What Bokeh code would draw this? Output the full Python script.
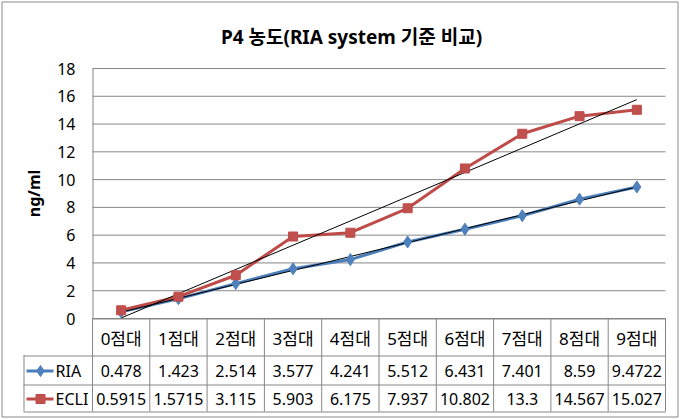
import numpy as np
from bokeh.plotting import figure
from bokeh.models import Range1d
from bokeh.core.properties import value
from bokeh.embed import file_html
from bokeh.resources import INLINE

# ---------------- data ----------------
title_text = "P4 농도(RIA system 기준 비교)"
y_label = "ng/ml"
categories = ["0점대", "1점대", "2점대", "3점대", "4점대", "5점대", "6점대", "7점대", "8점대", "9점대"]
ria = [0.478, 1.423, 2.514, 3.577, 4.241, 5.512, 6.431, 7.401, 8.59, 9.4722]
ecli = [0.5915, 1.5715, 3.115, 5.903, 6.175, 7.937, 10.802, 13.3, 14.567, 15.027]
series_names = ["RIA", "ECLI"]
y_ticks = [0, 2, 4, 6, 8, 10, 12, 14, 16, 18]

# ---------------- layout (pixels) ----------------
W, H = 681, 419
PL, PR, PT, PB = 92, 665, 68, 318          # plot area
Y_MIN, Y_MAX = 0, 18
TABLE_L = 23
ROW_EDGES = [318, 355, 384, 411]           # table row boundaries
n = len(categories)
cw = (PR - PL) / n
x_start = -0.5 - PL / cw
x_end = x_start + W / cw
ppu = (PB - PT) / (Y_MAX - Y_MIN)
y_start = Y_MIN - (H - PB) / ppu
y_end = Y_MAX + PT / ppu

FONT = value("'Noto Sans', 'Noto Sans CJK KR', sans-serif")
GRID = "#878787"
BLUE, BLUE_M = "#4A7EBB", "#4F81BD"
RED, RED_M = "#BE4B48", "#C0504D"

p = figure(width=W, height=H, x_range=Range1d(x_start, x_end), y_range=Range1d(y_start, y_end),
           x_axis_type=None, y_axis_type=None, toolbar_location=None, output_backend="svg",
           min_border=0, outline_line_color=None, background_fill_color="white",
           border_fill_color="white")
p.extra_x_ranges = {"px": Range1d(0, W)}
p.extra_y_ranges = {"px": Range1d(H, 0)}

# outer chart border
p.quad(left=[1.5], right=[677.5], top=[1.5], bottom=[416.5], fill_color=None,
       line_color="#8a8a8a", line_width=1, x_range_name="px", y_range_name="px")

# gridlines and y axis
p.segment(x0=[PL] * len(y_ticks), x1=[PR] * len(y_ticks), y0=y_ticks, y1=y_ticks,
          line_color=GRID, line_width=1, x_range_name="px")
p.segment(x0=[PL + 0.5], x1=[PL + 0.5], y0=[Y_MIN], y1=[Y_MAX], line_color=GRID,
          line_width=1, x_range_name="px")
p.text(x=[75] * len(y_ticks), y=y_ticks, text=[str(t) for t in y_ticks], text_align="right",
       text_baseline="middle", text_font=FONT, text_font_size="16px", text_color="black",
       x_range_name="px")
p.text(x=[33], y=[(PT + PB) / 2], text=[y_label], angle=np.pi / 2, text_align="center",
       text_baseline="middle", text_font=FONT, text_font_size="16px", text_font_style="bold",
       text_color="black", x_range_name="px", y_range_name="px")

# title
p.text(x=[351], y=[36], text=[title_text], text_align="center", text_baseline="middle",
       text_font=FONT, text_font_size="19px", text_font_style="bold", text_color="black",
       x_range_name="px", y_range_name="px")

# series
xs = list(range(n))
p.line(xs, ria, line_color=BLUE, line_width=3)
p.line(xs, ecli, line_color=RED, line_width=3)

# linear trendlines
for vals in (ria, ecli):
    k, b = np.polyfit(xs, vals, 1)
    p.line([xs[0], xs[-1]], [b + k * xs[0], b + k * xs[-1]], line_color="black", line_width=1)

p.scatter(xs, ria, marker="diamond", size=12, fill_color=BLUE_M, line_color=BLUE)
p.scatter(xs, ecli, marker="square", size=9, fill_color=RED_M, line_color=RED)

# ---------------- data table ----------------
col_edges = [PL + i * cw for i in range(n + 1)]
p.segment(x0=col_edges, x1=col_edges, y0=[ROW_EDGES[0]] * len(col_edges),
          y1=[ROW_EDGES[-1]] * len(col_edges), line_color=GRID, line_width=1,
          x_range_name="px", y_range_name="px")
p.segment(x0=[TABLE_L + 0.5], x1=[TABLE_L + 0.5], y0=[ROW_EDGES[1]], y1=[ROW_EDGES[-1]],
          line_color=GRID, line_width=1, x_range_name="px", y_range_name="px")
p.segment(x0=[PL] + [TABLE_L] * 3, x1=[PR] * 4, y0=[e + 0.5 for e in ROW_EDGES],
          y1=[e + 0.5 for e in ROW_EDGES], line_color=GRID, line_width=1,
          x_range_name="px", y_range_name="px")

row_c = [(ROW_EDGES[i] + ROW_EDGES[i + 1]) / 2 + 1 for i in range(3)]
p.text(x=xs, y=[row_c[0]] * n, text=categories, text_align="center", text_baseline="middle",
       text_font=FONT, text_font_size="17px", text_color="black", y_range_name="px")
p.text(x=xs, y=[row_c[1]] * n, text=[str(v) for v in ria], text_align="center",
       text_baseline="middle", text_font=FONT, text_font_size="16px", text_color="black",
       y_range_name="px")
p.text(x=xs, y=[row_c[2]] * n, text=[str(v) for v in ecli], text_align="center",
       text_baseline="middle", text_font=FONT, text_font_size="16px", text_color="black",
       y_range_name="px")

# legend keys inside table
for (name, col, mcol, marker, size), yc in zip(
        [(series_names[0], BLUE, BLUE_M, "diamond", 11), (series_names[1], RED, RED_M, "square", 9)],
        row_c[1:]):
    p.segment(x0=[26], x1=[53], y0=[yc], y1=[yc], line_color=col, line_width=3,
              x_range_name="px", y_range_name="px")
    p.scatter([40], [yc], marker=marker, size=size, fill_color=mcol, line_color=col,
              x_range_name="px", y_range_name="px")
    p.text(x=[55], y=[yc], text=[name], text_align="left", text_baseline="middle",
           text_font=FONT, text_font_size="16px", text_color="black",
           x_range_name="px", y_range_name="px")

open("out.html", "w").write(file_html(p, INLINE))
